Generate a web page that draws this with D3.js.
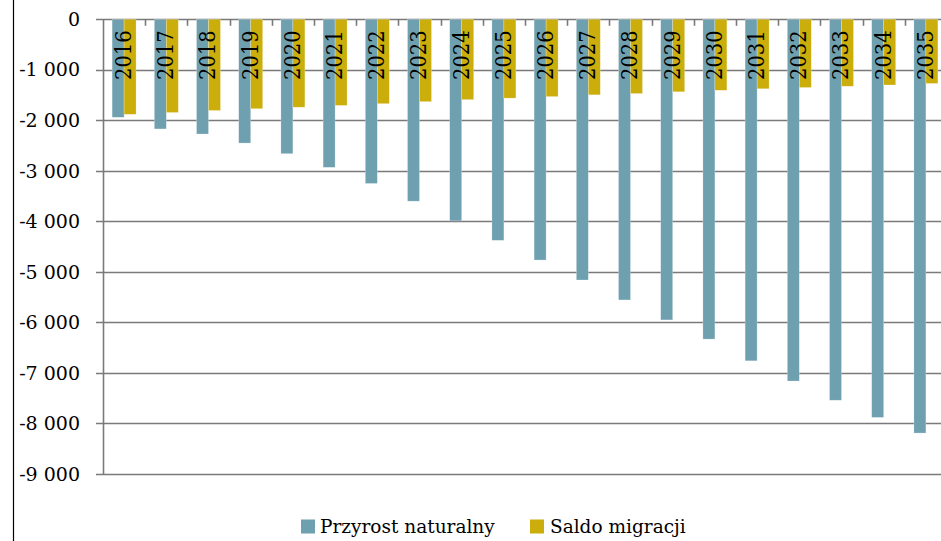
<!DOCTYPE html>
<html>
<head>
<meta charset="utf-8">
<script src="https://cdn.jsdelivr.net/npm/d3@7"></script>
<style>
  html, body { margin: 0; padding: 0; background: #fff; }
  svg { display: block; }
</style>
</head>
<body>
<svg id="chart" width="941" height="541"></svg>
<script>
const years = ["2016","2017","2018","2019","2020","2021","2022","2023","2024","2025",
               "2026","2027","2028","2029","2030","2031","2032","2033","2034","2035"];
const przyrostNaturalny = [-1940,-2170,-2270,-2450,-2660,-2930,-3250,-3600,-3990,-4375,
                           -4765,-5160,-5555,-5950,-6330,-6760,-7160,-7540,-7880,-8190];
const saldoMigracji = [-1880,-1845,-1805,-1770,-1740,-1705,-1670,-1630,-1590,-1560,
                       -1530,-1495,-1470,-1435,-1405,-1375,-1350,-1325,-1300,-1270];
const seriesNames = ["Przyrost naturalny", "Saldo migracji"];
const seriesColors = ["#6fa0b0", "#cbad0b"];
const yTicks = [0,-1000,-2000,-3000,-4000,-5000,-6000,-7000,-8000,-9000];

const FONT = "DejaVu Serif";

const svg = d3.select("#chart");
const W = 941, H = 541;

// outer frame line on the left
svg.append("line").attr("x1", 13.5).attr("x2", 13.5).attr("y1", 0).attr("y2", H)
  .attr("stroke", "#000").attr("stroke-width", 1.2);

const plotLeft = 103, bandW = 42.2;
const x0 = d3.scaleBand().domain(years).range([plotLeft, plotLeft + bandW * years.length]).paddingInner(0).paddingOuter(0);
const x1 = d3.scaleBand().domain(seriesNames).range([0, x0.bandwidth()]).paddingInner(0).paddingOuter(0.76);
const y = d3.scaleLinear().domain([-9000, 0]).range([474, 19.3]);

const loc = d3.formatLocale({decimal: ",", thousands: " ", grouping: [3], currency: ["", ""], minus: "-"});
const fmt = loc.format(",d");

// gridlines
svg.append("g").selectAll("line").data(yTicks).join("line")
  .attr("x1", 96).attr("x2", W)
  .attr("y1", d => Math.round(y(d)) + 0.5).attr("y2", d => Math.round(y(d)) + 0.5)
  .attr("stroke", "#7a7a7a").attr("stroke-width", 1.6);

// y axis line
svg.append("line").attr("x1", plotLeft + 0.5).attr("x2", plotLeft + 0.5)
  .attr("y1", y(0)).attr("y2", y(-9000))
  .attr("stroke", "#7a7a7a").attr("stroke-width", 1.6);

// y labels
svg.append("g").selectAll("text").data(yTicks).join("text")
  .attr("transform", d => `translate(80,${y(d)})`)
  .attr("text-anchor", "end").attr("dy", "0.35em")
  .attr("font-family", FONT)
  .attr("font-size", 19).attr("fill", "#000")
  .text(d => fmt(d));

// bars
const groups = svg.append("g").selectAll("g").data(years).join("g")
  .attr("transform", d => `translate(${x0(d)},0)`);

groups.selectAll("rect").data((d, i) => [
    {s: seriesNames[0], v: przyrostNaturalny[i], c: seriesColors[0]},
    {s: seriesNames[1], v: saldoMigracji[i], c: seriesColors[1]}
  ]).join("rect")
  .attr("x", d => x1(d.s))
  .attr("width", x1.bandwidth())
  .attr("y", d => y(0))
  .attr("height", d => y(d.v) - y(0))
  .attr("fill", d => d.c)
  .attr("stroke", "#ffffff").attr("stroke-opacity", 0.4).attr("stroke-width", 0.6);

// x axis ticks (top) between categories
svg.append("g").selectAll("line").data(years.slice(1)).join("line")
  .attr("x1", d => Math.round(x0(d)) + 0.5).attr("x2", d => Math.round(x0(d)) + 0.5)
  .attr("y1", y(0)).attr("y2", y(0) + 6.5)
  .attr("stroke", "#7a7a7a").attr("stroke-width", 1.6);

// year labels (rotated)
svg.append("g").selectAll("text").data(years).join("text")
  .attr("transform", d => `translate(${x0(d) + x0.bandwidth() / 2 - 1},80) rotate(-90) scale(1,1.15)`)
  .attr("text-anchor", "start").attr("dy", "0.35em")
  .attr("font-family", FONT)
  .attr("font-size", 19.5).attr("fill", "#000")
  .text(d => d);

// legend
const legendItems = [
  {name: seriesNames[0], color: seriesColors[0], sx: 301, tx: 320},
  {name: seriesNames[1], color: seriesColors[1], sx: 530, tx: 550}
];
const lg = svg.append("g");
lg.selectAll("rect").data(legendItems).join("rect")
  .attr("x", d => d.sx).attr("y", 519.5).attr("width", 14).attr("height", 14)
  .attr("fill", d => d.color);
lg.selectAll("text").data(legendItems).join("text")
  .attr("transform", d => `translate(${d.tx},532.5)`)
  .attr("font-family", FONT)
  .attr("font-size", 18.5).attr("fill", "#000")
  .text(d => d.name);
</script>
</body>
</html>
